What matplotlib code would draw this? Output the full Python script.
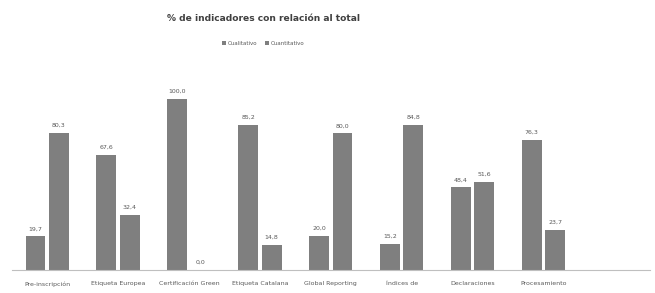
import matplotlib
matplotlib.use("Agg")
import matplotlib.pyplot as plt
import numpy as np

# datos
categorias = ["Pre-inscripción", "Etiqueta Europea", "Certificación Green",
              "Etiqueta Catalana", "Global Reporting", "Índices de",
              "Declaraciones", "Procesamiento", ""]
cualitativo = [19.7, 67.6, 100.0, 85.2, 20.0, 15.2, 48.4, 76.3]
cuantitativo = [80.3, 32.4, 0.0, 14.8, 80.0, 84.8, 51.6, 23.7]
series = ["Cualitativo", "Cuantitativo"]

gris = "#7f7f7f"
texto = "#595959"

fig = plt.figure(figsize=(6.55, 2.93), dpi=100)
ax = fig.add_axes([0.018, 0.078, 0.974, 0.70])

x = np.arange(len(cualitativo))
w = 0.28
b1 = ax.bar(x - 0.165, cualitativo, w, color=gris, label=series[0])
b2 = ax.bar(x + 0.165, cuantitativo, w, color=gris, label=series[1])

for barras in (b1, b2):
    for r in barras:
        v = r.get_height()
        ax.text(r.get_x() + r.get_width() / 2, v + 3, f"{v:.1f}".replace(".", ","),
                ha="center", va="bottom", fontsize=4.5, color=texto)

ax.set_xlim(-0.5, len(categorias) - 0.5)
ax.set_ylim(0, 120)
ax.set_xticks(np.arange(len(categorias)))
ax.set_xticklabels(categorias, fontsize=4.5, color=texto)
ax.tick_params(axis="x", length=0, pad=8)
ax.set_yticks([])
for s in ["top", "right", "left"]:
    ax.spines[s].set_visible(False)
ax.spines["bottom"].set_color("#bfbfbf")
ax.spines["bottom"].set_linewidth(0.8)

fig.text(0.402, 0.938, "% de indicadores con relación al total", ha="center",
         va="center", fontsize=6.6, fontweight="bold", color="#404040")
fig.legend(handles=[b1, b2], labels=series, loc="center", bbox_to_anchor=(0.402, 0.852),
           ncol=2, frameon=False, fontsize=4, handlelength=0.7, handleheight=0.7,
           columnspacing=1.5, handletextpad=0.3, labelcolor=texto)

fig.savefig("out.png", dpi=100)
